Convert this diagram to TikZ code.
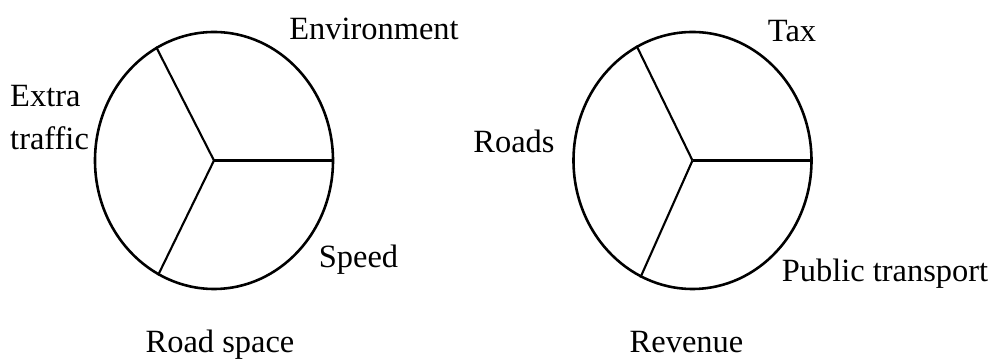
\documentclass[tikz,border=0pt]{standalone}
\usepackage{fontspec}
\setmainfont{Liberation Serif}
\usepackage{tikz}
\usetikzlibrary{
  positioning,
  shapes.geometric
}
\tikzset{
  pie/.style={ellipse,draw,line width=2.2pt,minimum width=71.4mm,minimum height=77.1mm,inner sep=0pt},
  spoke/.style={line width=1.8pt},
  lbl/.style={anchor=base,inner sep=0pt}
}

\begin{document}
\begin{tikzpicture}[x=0.3mm,y=0.3mm,font=\fontsize{27.7}{37.5}\selectfont]
    \useasboundingbox (0,0) rectangle (995,362);
    % Kuchen
    \node[pie] (pl) at (214,201.5) {};
    \node[pie] (pr) at (692.5,201.5) {};
    \foreach \a in {0,117,-116}
        \draw[spoke] (pl.center) -- (pl.\a);
    \foreach \a in {0,116.7,-114.5}
        \draw[spoke] (pr.center) -- (pr.\a);

    % Beschriftungen
    \node[lbl] (env) at (374,322) {Environment};
    \node[lbl] (spd) at (358.5,94) {Speed};
    \node[lbl] (rsp) at (220,9) {Road space};
    \node[lbl,anchor=base west,align=left] (xtr) at (10,212) {Extra\\traffic};
    \node[lbl] (tax) at (792,320) {Tax};
    \node[lbl] (rds) at (514,209) {Roads};
    \node[lbl] (pub) at (885,80) {Public transport};
    \node[lbl] (rev) at (686.5,9) {Revenue};
\end{tikzpicture}
\end{document}
